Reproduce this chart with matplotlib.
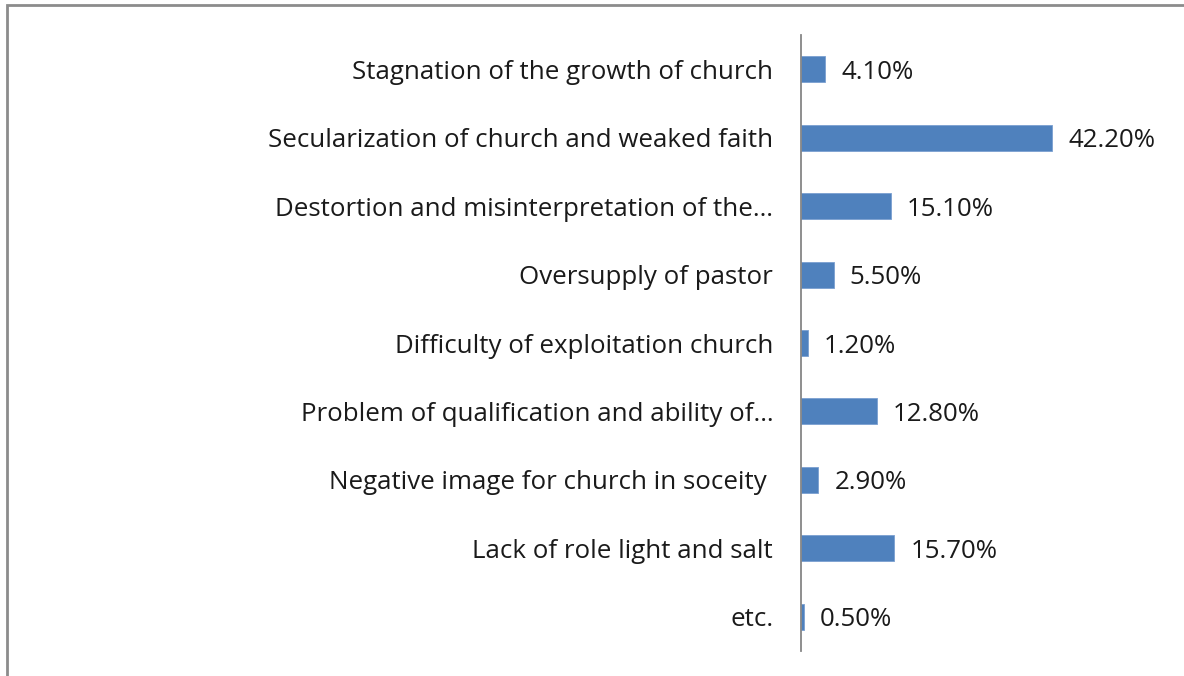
import matplotlib.pyplot as plt
from matplotlib.patches import Rectangle

plt.rcParams['font.family'] = ['Open Sans', 'DejaVu Sans']

categories = [
    'Stagnation of the growth of church',
    'Secularization of church and weaked faith',
    'Destortion and misinterpretation of the…',
    'Oversupply of pastor',
    'Difficulty of exploitation church',
    'Problem of qualification and ability of…',
    'Negative image for church in soceity ',
    'Lack of role light and salt',
    'etc.',
]
values = [4.1, 42.2, 15.1, 5.5, 1.2, 12.8, 2.9, 15.7, 0.5]
value_labels = ['4.10%', '42.20%', '15.10%', '5.50%', '1.20%', '12.80%', '2.90%', '15.70%', '0.50%']

W, H = 1184, 676
fig = plt.figure(figsize=(W / 100, H / 100), dpi=100)

# outer chart frame
fig.patches.append(Rectangle((6.5 / W, -0.1), 1.2, 1 - 4.5 / H + 0.1, transform=fig.transFigure,
                             fill=False, edgecolor='#8c8c8c', linewidth=2))

ax = fig.add_axes([801 / W, 1 - 651 / H, 300 / W, 616 / H])
pos = list(range(len(categories)))
ax.barh(pos, values, height=0.38, color='#4f81bd', edgecolor='#7a9fd0', linewidth=0.6)
ax.set_ylim(len(categories) - 0.5, -0.5)
ax.set_xlim(0, 300 / 5.95)

fs = 18.6
for p, v, t in zip(pos, values, value_labels):
    ax.annotate(t, (v, p), xytext=(16, -3), textcoords='offset pixels',
                va='center', ha='left', fontsize=fs, color='#1a1a1a')

ax.set_yticks(pos)
ax.set_yticklabels(categories, fontsize=fs, color='#1a1a1a')
ax.tick_params(axis='y', length=0, pad=20)
ax.set_xticks([])
for s in ['top', 'right', 'bottom']:
    ax.spines[s].set_visible(False)
ax.spines['left'].set_color('#868686')
ax.spines['left'].set_linewidth(1.3)

fig.savefig('out.png', dpi=100, facecolor='white')
